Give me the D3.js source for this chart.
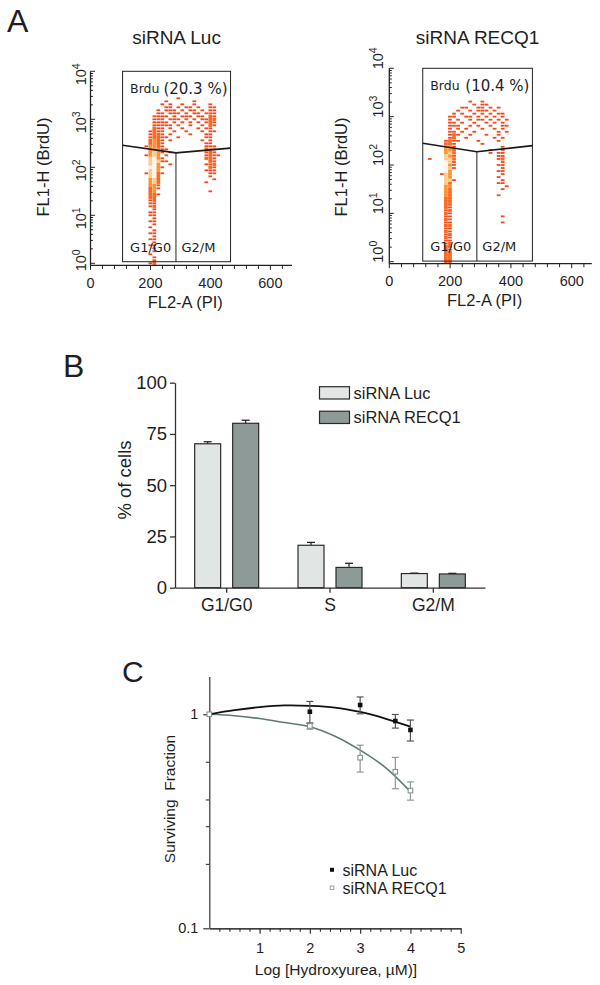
<!DOCTYPE html>
<html><head><meta charset="utf-8">
<script src="https://cdn.jsdelivr.net/npm/d3@7/dist/d3.min.js"></script>
<style>
body{margin:0;background:#fff}
svg{display:block}
text{font-family:"Liberation Sans",Arial,sans-serif;fill:#1e1e1e}
</style>
</head><body>
<svg id="fig" width="600" height="985"></svg>
<script>
// ---------------- DATA ----------------
// Panel A: flow cytometry density grids (rows: log10 FL1 from 3.5 downward in 0.0625 steps; cols: FL2 from 100 in 13.33 steps)
const flowTitles = ["siRNA Luc", "siRNA RECQ1"];
const brduPercents = ["(20.3 %)", "(10.4 %)"];
const gateNames = ["G1/G0", "G2/M"];
const fl2Ticks = [0, 200, 400, 600];
const fl1Exponents = [0, 1, 2, 3, 4];
const flowFL2Start = 100, flowFL2Bin = 13.333, flowLogTop = 3.5, flowLogStep = 0.0625;
const flowLeftGrid = [
"",
"..............1",
"...........1......1",
"..........1.1..1..1...1",
"...........11.1.11.1..11",
".........1.111.1.11.1.11",
".........11.111.1.11.111",
"........1111.1.111.11.21",
"........111.111.1.1.1122",
"........1111.1.1.1.1.121",
"........11111.1..1..1.21",
"........211.1..1...1.11",
".......1211..1..1...1.11",
".......1221.1....1...11",
".......12211..1......11",
".......2321.1.......1.1",
".......2321..........11",
"......13321..........111",
".......33311.........211",
".......3431.1........121",
"......1343.1.........1211",
".......4531..........221",
".......45411..........21",
".......453..1........112",
".......5531...........21",
".......453...........111",
"......14521...........11",
".......452............1",
".......342.............1",
".......342...........1",
".......331",
".......231",
".......23.............1",
".......221",
".......22",
".......12",
".......11", ".......12", "........1", ".......11", ".......11", "........1", ".......11",
"........1", ".......1", "........1", ".......11", "........1", ".......11", "........1",
".......11", "........1", "........1", ".......1", "........1", "........1", ".......12"
];
const flowRightGrid = [
"", "", "",
"............1..1",
".............1.11",
"..........11..11.1.1",
".........1..1.111.1",
"........1.1..1.1.1.11",
".......11..11.1.1.1.1",
".......1.1..1.11.1.1.1",
".......11.1..1..1.1.1",
".......111..1.1..1..11",
".......1.1.1...1..1.1",
".......11.1..1.....1.1",
".......121..1...1..1",
".......12..1......1.1",
"......1211....1....1",
"......221......1",
"......331...........1",
"......332........1..1",
"......342........1.11",
"......431..........11",
"..1...442..........12",
"......541...........1",
"......531..........11",
"......541...........1",
"......53...........11",
".....143............1",
"......43...........1",
"......441...........1",
"......42...........11",
"......33.............1",
"......32............1",
"......32",
"......32...........1",
"......22", "......22", "......22", "......21", "......12", "......21",
"......11............1",
"......21",
"......11............1",
"......22", "......11", "......21", "......12", "......21", "......11", "......12",
"......22", "......21", "......22", "......22", "......22", "......22"
];
// gates: [FL2, FL1]
const leftBox = {fl2: [107, 467], fl1: [1.08, 10000], divider: 285};
const rightBox = {fl2: [110, 470.7], fl1: [1.03, 10000], divider: 288};
const leftGate = [[107, 288], [285, 200], [467, 251]];
const rightGate = [[110, 282], [288, 188], [470.7, 251]];

// Panel B
const cycleCategories = ["G1/G0", "S", "G2/M"];
const cycleSeries = ["siRNA Luc", "siRNA RECQ1"];
const lucPercent = [70.2, 20.7, 6.9];
const lucPercentErr = [1.0, 1.4, 0.2];
const recq1Percent = [80.2, 9.9, 6.7];
const recq1PercentErr = [1.5, 2.0, 0.3];
const percentTicks = [0, 25, 50, 75, 100];

// Panel C
const hydroxyLog = [0, 2, 3, 3.7, 4];
const lucSurvival = [1.0, 1.028, 1.105, 0.930, 0.845];
const lucSurvivalErr = [0, 0.12, 0.10, 0.068, 0.095];
const recq1Survival = [1.0, 0.882, 0.627, 0.539, 0.44];
const recq1SurvivalErr = [0, 0.03, 0.09, 0.09, 0.043];
const fitX = [0, 0.5, 1, 1.5, 2, 2.5, 3, 3.5, 4];
const lucFit = [1.0, 1.045, 1.08, 1.10, 1.095, 1.075, 1.025, 0.955, 0.875];
const recq1Fit = [1.0, 0.985, 0.955, 0.915, 0.875, 0.79, 0.68, 0.565, 0.435];
const survivalXTicks = [1, 2, 3, 4, 5];
const survivalYTicks = [0.1, 1];
const survivalYMinor = [0.2, 0.3, 0.4, 0.6];

// ---------------- DRAW ----------------
const svg = d3.select("#fig");
const palette = ["#f2481c", "#f86822", "#fd9232", "#ffca8c", "#fff4e8"];
const dv = "'DejaVu Sans',Verdana,sans-serif";

function panelLetter(t, x, y, size) {
  svg.append("text").attr("x", x).attr("y", y).attr("font-size", size).text(t);
}

function flowPanel(cfg) {
  const {x, y, grid, box, gate, title, pct, leftLabels} = cfg;
  const g = svg.append("g");
  const cells = [];
  grid.forEach((row, r) => {
    for (let c = 0; c < row.length; c++) {
      const ch = row[c];
      if (ch !== ".") cells.push({c, r, k: +ch});
    }
  });
  cells.sort((a, b) => a.k - b.k);
  g.selectAll("rect.cell").data(cells).join("rect")
    .attr("x", d => x(flowFL2Start + d.c * flowFL2Bin))
    .attr("width", d => x(flowFL2Start + (d.c + 1) * flowFL2Bin) - x(flowFL2Start + d.c * flowFL2Bin) - 0.3)
    .attr("y", d => y(Math.pow(10, flowLogTop - d.r * flowLogStep)) - (d.k > 1 ? 1.6 : 0.9))
    .attr("height", d => d.k > 1 ? 3.2 : 1.8)
    .attr("fill", d => palette[d.k - 1]);

  // gate box
  const bx0 = x(box.fl2[0]), bx1 = x(box.fl2[1]);
  const by0 = y(box.fl1[1]), by1 = y(box.fl1[0]);
  g.append("rect").attr("x", bx0).attr("y", by0).attr("width", bx1 - bx0).attr("height", by1 - by0)
    .attr("fill", "none").attr("stroke", "#222").attr("stroke-width", 1);
  g.append("line").attr("x1", x(box.divider)).attr("x2", x(box.divider))
    .attr("y1", y(gate[1][1])).attr("y2", by1).attr("stroke", "#222").attr("stroke-width", 1);
  g.append("path").attr("d", d3.line().x(d => x(d[0])).y(d => y(d[1]))(gate))
    .attr("fill", "none").attr("stroke", "#1a1a1a").attr("stroke-width", 1.7);

  // labels inside box
  g.append("text").attr("x", bx0 + 7.5).attr("y", by0 + 22).attr("font-size", 12.5)
    .style("font-family", dv).text("Brdu");
  g.append("text").attr("x", bx1 - 3).attr("y", by0 + 23).attr("text-anchor", "end").attr("font-size", 15)
    .style("font-family", dv).text(pct);
  g.append("text").attr("x", bx0 + 7.5).attr("y", by1 - 10).attr("font-size", 13)
    .style("font-family", dv).text(gateNames[0]);
  g.append("text").attr("x", x(box.divider) + 5.5).attr("y", by1 - 10).attr("font-size", 13)
    .style("font-family", dv).text(gateNames[1]);

  // axes
  const x0 = x(0), xEnd = x.range()[1];
  const axisY = y(1) + 2;
  const ax = g.append("g").attr("stroke", "#222");
  ax.append("line").attr("x1", x0).attr("x2", xEnd).attr("y1", axisY).attr("y2", axisY).attr("stroke-width", 1.3);
  ax.append("line").attr("x1", x0).attr("x2", x0).attr("y1", y(10000)).attr("y2", axisY).attr("stroke-width", 1.3);
  const xt = d3.range(0, x.domain()[1] + 1, 40);
  ax.selectAll("line.xt").data(xt).join("line")
    .attr("x1", d => x(d)).attr("x2", d => x(d)).attr("y1", axisY).attr("y2", d => axisY + (d % 200 === 0 ? 4.5 : 3.5))
    .attr("stroke-width", 1);
  const yt = [];
  for (let e = 0; e < 4; e++) for (let m = 1; m <= 9; m++) yt.push({v: m * Math.pow(10, e), major: m === 1});
  yt.push({v: 10000, major: true});
  ax.selectAll("line.yt").data(yt).join("line")
    .attr("x1", x0).attr("x2", d => x0 + (d.major ? 4.5 : 2.5))
    .attr("y1", d => y(d.v)).attr("y2", d => y(d.v)).attr("stroke-width", 1);

  g.selectAll("text.xl").data(fl2Ticks).join("text")
    .attr("x", d => x(d)).attr("y", axisY + 22.5).attr("text-anchor", "middle").attr("font-size", 14.5)
    .text(d => d);
  const yl = g.selectAll("text.yl").data(fl1Exponents).join("text")
    .attr("font-size", 14.5)
    .attr("transform", d => leftLabels
      ? `translate(${x0 - 5},${Math.min(y(Math.pow(10, d)) + 3, y(1) - 3)}) rotate(-90)`
      : `translate(${x0 - 6},${y(Math.pow(10, d)) + 1}) rotate(-90)`)
    .attr("text-anchor", leftLabels ? "middle" : "start");
  yl.append("tspan").text("10");
  yl.append("tspan").attr("dy", -6).attr("font-size", 10.5).text(d => d);

  svg.append("text").attr("x", (x0 + xEnd) / 2 - 6).attr("y", axisY + 42.5).attr("text-anchor", "middle")
    .attr("font-size", 16.5).text("FL2-A (PI)");
  svg.append("text").attr("transform", `translate(${x0 - 42},167) rotate(-90)`).attr("text-anchor", "middle")
    .attr("font-size", 16.5).text("FL1-H (BrdU)");
  svg.append("text").attr("x", (bx0 + bx1) / 2).attr("y", 44).attr("text-anchor", "middle")
    .attr("font-size", 19).text(title);
}

const xL = d3.scaleLinear().domain([0, 672]).range([90.5, 292]);
const yL = d3.scaleLog().domain([1, 10000]).range([263.3, 71.3]);
const xR = d3.scaleLinear().domain([0, 666]).range([389.3, 591.8]);
const yR = d3.scaleLog().domain([1, 10000]).range([261.7, 68.3]);

flowPanel({x: xL, y: yL, grid: flowLeftGrid, box: leftBox, gate: leftGate, title: flowTitles[0], pct: brduPercents[0], leftLabels: true});
flowPanel({x: xR, y: yR, grid: flowRightGrid, box: rightBox, gate: rightGate, title: flowTitles[1], pct: brduPercents[1], leftLabels: false});
panelLetter("A", 7, 32, 32);

// ---------- Panel B ----------
const xB = d3.scaleBand().domain(cycleCategories).range([175, 485]);
const xBin = d3.scaleBand().domain(cycleSeries).range([0, 64]).paddingInner(0.316);
const yB = d3.scaleLinear().domain([0, 100]).range([587.7, 382.7]);
const barColors = {"siRNA Luc": "#e1e5e4", "siRNA RECQ1": "#8d9a98"};
const barData = [];
cycleCategories.forEach((c, i) => {
  barData.push({cat: c, s: cycleSeries[0], v: lucPercent[i], e: lucPercentErr[i]});
  barData.push({cat: c, s: cycleSeries[1], v: recq1Percent[i], e: recq1PercentErr[i]});
});
const gB = svg.append("g");
const bx = d => xB(d.cat) + xB.bandwidth() / 2 - 32 + xBin(d.s);
// error bars (upper)
gB.selectAll("line.eb").data(barData).join("line")
  .attr("x1", d => bx(d) + xBin.bandwidth() / 2).attr("x2", d => bx(d) + xBin.bandwidth() / 2)
  .attr("y1", d => yB(d.v)).attr("y2", d => yB(d.v + d.e)).attr("stroke", "#222").attr("stroke-width", 1.2);
gB.selectAll("line.cap").data(barData).join("line")
  .attr("x1", d => bx(d) + xBin.bandwidth() / 2 - 4).attr("x2", d => bx(d) + xBin.bandwidth() / 2 + 4)
  .attr("y1", d => yB(d.v + d.e)).attr("y2", d => yB(d.v + d.e)).attr("stroke", "#222").attr("stroke-width", 1.3);
gB.selectAll("rect.bar").data(barData).join("rect")
  .attr("x", bx).attr("width", xBin.bandwidth())
  .attr("y", d => yB(d.v)).attr("height", d => yB(0) - yB(d.v))
  .attr("fill", d => barColors[d.s]).attr("stroke", "#2a2a2a").attr("stroke-width", 1.2);

const yAxB = gB.append("g").attr("transform", "translate(175,0)")
  .call(d3.axisLeft(yB).tickValues(percentTicks).tickSize(5).tickPadding(3).tickSizeOuter(0));
yAxB.selectAll("text").attr("font-size", 18.5).style("font-family", "'Liberation Sans',Arial,sans-serif").attr("fill", "#1e1e1e");
yAxB.selectAll("path,line").attr("stroke", "#333").attr("stroke-width", 1.3);
const xAxB = gB.append("g").attr("transform", "translate(0,587.7)")
  .call(d3.axisBottom(xB).tickSize(5).tickPadding(6).tickSizeOuter(0));
xAxB.selectAll("text").attr("font-size", 17.5).style("font-family", "'Liberation Sans',Arial,sans-serif").attr("fill", "#1e1e1e");
xAxB.selectAll("path,line").attr("stroke", "#333").attr("stroke-width", 1.3);

svg.append("text").attr("transform", "translate(131,480) rotate(-90)").attr("text-anchor", "middle")
  .attr("font-size", 18.5).text("% of cells");
const legB = svg.append("g");
cycleSeries.forEach((s, i) => {
  legB.append("rect").attr("x", 319.5).attr("y", 386.7 + i * 24.5).attr("width", 30).attr("height", 12.3)
    .attr("fill", barColors[s]).attr("stroke", "#2a2a2a").attr("stroke-width", 1.2);
  legB.append("text").attr("x", 353.5).attr("y", 398.5 + i * 24.5).attr("font-size", 16.5).text(s);
});
panelLetter("B", 63, 377, 32);

// ---------- Panel C ----------
const xC = d3.scaleLinear().domain([0, 5]).range([209.3, 460.7]);
const yC = d3.scaleLog().domain([0.1, 1.5]).range([928.3, 676.6]);
const gC = svg.append("g");
const xAxC = gC.append("g").attr("transform", "translate(0,928.3)")
  .call(d3.axisBottom(xC).tickValues(survivalXTicks).tickSize(5.5).tickPadding(9).tickSizeOuter(0).tickFormat(d3.format("d")));
gC.append("g").attr("transform", "translate(0,928.3)")
  .call(d3.axisBottom(xC).tickValues(d3.range(0.2, 5, 0.2).filter(v => Math.abs(v - Math.round(v)) > 0.01)).tickSize(3.5).tickFormat("").tickSizeOuter(0))
  .selectAll("path,line").attr("stroke", "#333").attr("stroke-width", 1.1);
xAxC.selectAll("text").attr("font-size", 14.5).style("font-family", "'Liberation Sans',Arial,sans-serif").attr("fill", "#1e1e1e");
xAxC.selectAll("path,line").attr("stroke", "#333").attr("stroke-width", 1.2);
const yAxC = gC.append("g").attr("transform", "translate(209.3,0)")
  .call(d3.axisLeft(yC).tickValues(survivalYTicks).tickSize(6).tickPadding(5).tickSizeOuter(0).tickFormat(d => d === 1 ? "1" : "0.1"));
yAxC.selectAll("text").attr("font-size", 14.5).style("font-family", "'Liberation Sans',Arial,sans-serif").attr("fill", "#1e1e1e");
yAxC.selectAll("path,line").attr("stroke", "#333").attr("stroke-width", 1.2);
gC.append("g").attr("transform", "translate(209.3,0)")
  .call(d3.axisLeft(yC).tickValues(survivalYMinor).tickSize(3.5).tickFormat("").tickSizeOuter(0))
  .call(s => s.select("path").remove())
  .selectAll("line").attr("stroke", "#333").attr("stroke-width", 1.1);

const fitLine = d3.line().x(d => xC(d[0])).y(d => yC(d[1])).curve(d3.curveCatmullRom);
gC.append("path").attr("d", fitLine(fitX.map((v, i) => [v, recq1Fit[i]])))
  .attr("fill", "none").attr("stroke", "#5f7977").attr("stroke-width", 1.6);
gC.append("path").attr("d", fitLine(fitX.map((v, i) => [v, lucFit[i]])))
  .attr("fill", "none").attr("stroke", "#111").attr("stroke-width", 1.8);

function errBars(vals, errs, color) {
  const d = hydroxyLog.map((x, i) => ({x, v: vals[i], e: errs[i]})).filter(p => p.e > 0);
  const g = gC.append("g").attr("stroke", color).attr("stroke-width", 1.2);
  g.selectAll("line.v").data(d).join("line")
    .attr("x1", p => xC(p.x)).attr("x2", p => xC(p.x)).attr("y1", p => yC(p.v - p.e)).attr("y2", p => yC(p.v + p.e));
  g.selectAll("line.t").data(d).join("line")
    .attr("x1", p => xC(p.x) - 3.5).attr("x2", p => xC(p.x) + 3.5).attr("y1", p => yC(p.v + p.e)).attr("y2", p => yC(p.v + p.e));
  g.selectAll("line.b").data(d).join("line")
    .attr("x1", p => xC(p.x) - 3.5).attr("x2", p => xC(p.x) + 3.5).attr("y1", p => yC(p.v - p.e)).attr("y2", p => yC(p.v - p.e));
}
errBars(recq1Survival, recq1SurvivalErr, "#8f9998");
errBars(lucSurvival, lucSurvivalErr, "#555");

gC.selectAll("rect.luc").data(hydroxyLog.map((x, i) => [x, lucSurvival[i]])).join("rect")
  .attr("x", d => xC(d[0]) - 2.3).attr("y", d => yC(d[1]) - 2.3).attr("width", 4.6).attr("height", 4.6)
  .attr("fill", "#111");
gC.selectAll("rect.rec").data(hydroxyLog.map((x, i) => [x, recq1Survival[i]])).join("rect")
  .attr("x", d => xC(d[0]) - 2.3).attr("y", d => yC(d[1]) - 2.3).attr("width", 4.6).attr("height", 4.6)
  .attr("fill", "#fff").attr("stroke", "#7f8b8a").attr("stroke-width", 1);

svg.append("text").attr("transform", "translate(175,799) rotate(-90)").attr("text-anchor", "middle")
  .attr("font-size", 15.5).attr("xml:space", "preserve").text("Surviving  Fraction");
svg.append("text").attr("x", 336).attr("y", 975).attr("text-anchor", "middle")
  .attr("font-size", 15.5).text("Log [Hydroxyurea, µM)]");

const legC = svg.append("g");
legC.append("rect").attr("x", 330).attr("y", 867.8).attr("width", 4).attr("height", 4).attr("fill", "#111");
legC.append("rect").attr("x", 330.3).attr("y", 886).attr("width", 3.6).attr("height", 3.6)
  .attr("fill", "#fff").attr("stroke", "#8f9998").attr("stroke-width", 0.9);
legC.append("text").attr("x", 342.5).attr("y", 875.5).attr("font-size", 16).text(cycleSeries[0]);
legC.append("text").attr("x", 342.5).attr("y", 893.5).attr("font-size", 16).text(cycleSeries[1]);
panelLetter("C", 122, 682, 30);
</script>
</body></html>
